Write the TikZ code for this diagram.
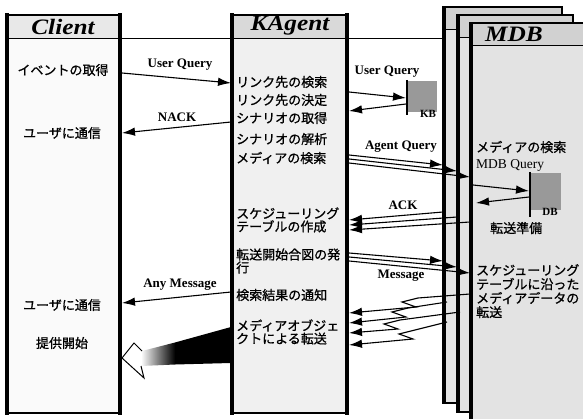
\documentclass[tikz,border=0pt]{standalone}
\usepackage{fontspec}
\setmainfont{Liberation Serif}
\newfontfamily\jp{Noto Sans CJK JP}[FakeBold=0.9]
\newfontfamily\hdfont{Liberation Serif}[FakeStretch=1.15]
\usetikzlibrary{arrows.meta}
\tikzset{
  edge/.style={line width=3.4pt},
  rim/.style={line width=1.1pt},
  hline/.style={line width=0.8pt},
  jt/.style={font=\jp\fontsize{13}{11.5}\selectfont, inner sep=0pt, align=left},
  jtm/.style={font=\jp\fontsize{13}{14}\selectfont, inner sep=0pt, align=left},
  lab/.style={font=\bfseries\fontsize{13}{13}\selectfont, inner sep=0pt},
  hd/.style={font=\hdfont\bfseries\itshape\fontsize{22}{22}\selectfont, inner sep=0pt},
  arr/.style={line width=1.1pt, -{Latex[length=13pt,width=8.5pt]}},
  store/.style={fill=black!40},
}
\begin{document}
\begin{tikzpicture}[x=1pt,y=-1pt]
\useasboundingbox (0,0) rectangle (583,419);
\fill[white] (0,0) rectangle (583,419);

% long header line
\coordinate (hl1) at (120,38);
\coordinate (hl2) at (443,38);
\draw[hline] (hl1) -- (hl2);

% MDB stack
\foreach \x/\y/\r/\b in {443/7/562/403, 457/15/573/412, 470/23/600/440}{
  \fill[black!11] (\x,\y) rectangle (\r,\b);
  \fill[black!18] (\x,\y) rectangle (\r,\y+22);
  \draw[rim] (\x,\y) rectangle (\r,\b);
  \draw[hline] (\x,\y+22) -- (\r,\y+22);
  \draw[edge] (\x+1.5,\y-0.5) -- (\x+1.5,\b+0.5);
}

% Client
\fill[black!2] (7,15) rectangle (120,413);
\fill[black!9] (7,15) rectangle (120,38);
\draw[rim] (7,15) rectangle (120,413);
\draw[hline] (7,38) -- (120,38);
\draw[edge] (7,13.5) -- (7,414.5);
\draw[edge] (120,13.5) -- (120,414.5);

% KAgent
\fill[black!6] (232,15) rectangle (347,413);
\fill[black!15] (232,15) rectangle (347,38);
\draw[rim] (232,15) rectangle (347,413);
\draw[hline] (232,38) -- (347,38);
\draw[edge] (232,13.5) -- (232,414.5);
\draw[edge] (347,13.5) -- (347,414.5);

% headers
\node[hd] (client) at (63,27) {Client};
\node[hd] (kagent) at (290,26) {KAgent};
\node[hd] (mdb) at (514,34) {MDB};

% Client texts
\node[jt] (c1) at (63,70) {イベントの取得};
\node[jt] (c2) at (62,133) {ユーザに通信};
\node[jt] (c3) at (62,305) {ユーザに通信};
\node[jt] (c4) at (62,343) {提供開始};

% KAgent texts
\node[jt, anchor=west] (k1) at (236,82) {リンク先の検索};
\node[jt, anchor=west] (k2) at (236,100) {リンク先の決定};
\node[jt, anchor=west] (k3) at (236,118) {シナリオの取得};
\node[jt, anchor=west] (k4) at (236,139) {シナリオの解析};
\node[jt, anchor=west] (k5) at (236,158) {メディアの検索};
\node[jt, anchor=west] (k6) at (236,220) {スケジューリング\\テーブルの作成};
\node[jt, anchor=west] (k7) at (236,261) {転送開始合図の発\\行};
\node[jt, anchor=west] (k8) at (236,295) {検索結果の通知};
\node[jt, anchor=west] (k9) at (236,332) {メディアオブジェ\\クトによる転送};

% MDB texts
\node[jt, anchor=west] (m1) at (476,147) {メディアの検索};
\node[inner sep=0pt, anchor=west, font=\fontsize{13.5}{13.5}\selectfont] (m2) at (476,165) {MDB Query};
\node[jt, anchor=west] (m3) at (490,228) {転送準備};
\node[jtm, anchor=north west] (m4) at (476,264) {スケジューリング\\テーブルに沿った\\メディアデータの\\転送};

% KB and DB stores
\fill[store] (408,81) rectangle (437,112);
\draw[line width=2.4pt] (407,80) -- (407,115);
\node[font=\bfseries\fontsize{11}{11}\selectfont, inner sep=0pt] (kb) at (428,114) {KB};
\fill[store] (531,173) rectangle (561,210);
\draw[line width=2.4pt] (530,172) -- (530,217);
\node[font=\bfseries\fontsize{11}{11}\selectfont, inner sep=0pt] (db) at (550,212) {DB};

% labels
\node[lab] (l1) at (180,65) {User Query};
\node[lab] (l2) at (177,117) {NACK};
\node[lab] (l3) at (387,72) {User Query};
\node[lab] (l4) at (401,147) {Agent Query};
\node[lab] (l5) at (403,205) {ACK};
\node[lab] (l6) at (401,276) {Message};
\node[lab] (l7) at (180,285) {Any Message};

% Client <-> KAgent
\coordinate (uqa) at (122,73);  \coordinate (uqb) at (231,83);
\draw[arr] (uqa) -- (uqb);
\coordinate (nka) at (231,122); \coordinate (nkb) at (122,133);
\draw[arr] (nka) -- (nkb);
\coordinate (ama) at (231,292); \coordinate (amb) at (122,303);
\draw[arr] (ama) -- (amb);

% KAgent <-> KB
\coordinate (kqa) at (349,92);  \coordinate (kqb) at (406,98);
\draw[arr] (kqa) -- (kqb);
\coordinate (kra) at (406,104); \coordinate (krb) at (349,111);
\draw[arr] (kra) -- (krb);

% MDB <-> DB
\coordinate (dqa) at (473,185); \coordinate (dqb) at (529,191);
\draw[arr] (dqa) -- (dqb);
\coordinate (dra) at (529,197); \coordinate (drb) at (476,203);
\draw[arr] (dra) -- (drb);

% Agent Query (to the three MDBs)
\foreach \i/\ya/\xb/\yb in {1/155/443/165, 2/159/457/171, 3/163/470/177}{
  \coordinate (aqa\i) at (349,\ya); \coordinate (aqb\i) at (\xb,\yb);
  \draw[arr] (aqa\i) -- (aqb\i);
}
% ACK
\foreach \i/\xa/\ya/\yb in {1/443/212/220, 2/457/217/225, 3/470/222/230}{
  \coordinate (aca\i) at (\xa,\ya); \coordinate (acb\i) at (349,\yb);
  \draw[arr] (aca\i) -- (acb\i);
}
% Message
\foreach \i/\ya/\xb/\yb in {1/253/443/261, 2/257/457/267, 3/261/470/273}{
  \coordinate (msa\i) at (349,\ya); \coordinate (msb\i) at (\xb,\yb);
  \draw[arr] (msa\i) -- (msb\i);
}
% media transfer (lightning arrows)
\foreach \i/\xs/\ys/\xz/\yz/\yt in {1/470/294/418/298/313, 2/447/302/408/308/323, 3/460/312/400/320/333, 4/447/322/415/330/345}{
  \coordinate (lsa\i) at (\xs,\ys);
  \coordinate (lz1\i) at (\xz,\yz);
  \coordinate (lz2\i) at (\xz-16,\yz+4);
  \coordinate (lz3\i) at (\xz-2,\yz+9);
  \coordinate (lsb\i) at (349,\yt);
  \draw[arr] (lsa\i) -- (lz1\i) -- (lz2\i) -- (lz3\i) -- (lsb\i);
}

% big shaded arrow KAgent -> Client
\coordinate (bt) at (122,358);
\coordinate (bh1) at (134,343);
\coordinate (bj1) at (142,351);
\coordinate (bj2) at (141,366);
\coordinate (bh2) at (144,378);
\coordinate (bm1) at (175,342.5);
\coordinate (bm2) at (175,364.5);
\coordinate (bk1) at (231,327);
\coordinate (bk2) at (231,363);
\shade[left color=white, right color=black] (bj1) -- (bm1) -- (bm2) -- (bj2) -- cycle;
\fill[black] (bm1) -- (bk1) -- (bk2) -- (bm2) -- cycle;
\fill[white] (bj1) -- (bh1) -- (bt) -- (bh2) -- (bj2) -- cycle;
\draw[line width=1pt, line join=miter] (bj1) -- (bh1) -- (bt) -- (bh2) -- (bj2);
\end{tikzpicture}
\end{document}
